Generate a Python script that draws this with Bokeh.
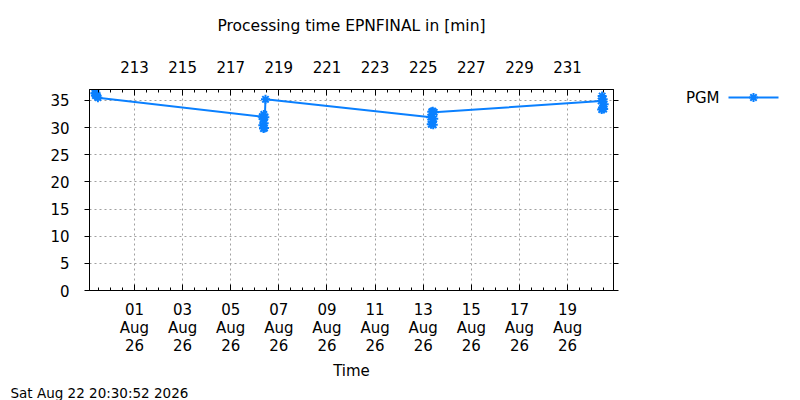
from datetime import datetime, timedelta

from bokeh.embed import file_html
from bokeh.resources import INLINE
from bokeh.layouts import row
from bokeh.plotting import figure
from bokeh.models import Range1d, LinearAxis, FixedTicker, DatetimeTickFormatter, Title

# processing time samples (PGM)
times = [
    "2026-07-30 08:30", "2026-07-30 09:00", "2026-07-30 09:30", "2026-07-30 10:00",
    "2026-07-30 10:30", "2026-07-30 11:30",
    "2026-08-06 07:30", "2026-08-06 08:00", "2026-08-06 08:20", "2026-08-06 08:40",
    "2026-08-06 09:00", "2026-08-06 09:20", "2026-08-06 09:40", "2026-08-06 10:00",
    "2026-08-06 10:40",
    "2026-08-13 07:30", "2026-08-13 08:00", "2026-08-13 08:30", "2026-08-13 09:00",
    "2026-08-13 09:30", "2026-08-13 10:00", "2026-08-13 10:30", "2026-08-13 11:00",
    "2026-08-20 09:30", "2026-08-20 10:00", "2026-08-20 10:30", "2026-08-20 11:00",
    "2026-08-20 11:30", "2026-08-20 12:00", "2026-08-20 12:30",
]
minutes = [
    36.3, 35.9, 36.4, 36.0, 35.8, 35.5,
    32.0, 30.4, 31.6, 29.8, 32.4, 30.8, 29.9, 31.9, 35.2,
    31.9, 30.6, 32.9, 31.0, 33.0, 30.5, 31.6, 32.8,
    34.9, 33.3, 35.8, 33.6, 35.2, 33.4, 34.3,
]
series_name = "PGM"

x_start = "2026-07-30 03:07"
x_end = "2026-08-20 21:49"
date_ticks = ["2026-08-01", "2026-08-03", "2026-08-05", "2026-08-07", "2026-08-09",
              "2026-08-11", "2026-08-13", "2026-08-15", "2026-08-17", "2026-08-19"]
day_numbers = [213, 215, 217, 219, 221, 223, 225, 227, 229, 231]
y_ticks = [0, 5, 10, 15, 20, 25, 30, 35]
y_max = 37

FONT = "DejaVu Sans"
BLUE = "#0a80ff"
EPOCH = datetime(1970, 1, 1)
BORDER_TOP, BORDER_BOTTOM = 89, 110


def parse(s):
    fmt = "%Y-%m-%d %H:%M" if " " in s else "%Y-%m-%d"
    return datetime.strptime(s, fmt)


def ms(d):
    return (d - EPOCH).total_seconds() * 1000.0


xs = [parse(t) for t in times]
t0, t1 = parse(x_start), parse(x_end)
aug1 = datetime(2026, 8, 1)
doy0 = day_numbers[0] + (t0 - aug1).total_seconds() / 86400
doy1 = day_numbers[0] + (t1 - aug1).total_seconds() / 86400

p = figure(width=640, height=400, x_axis_type="datetime", tools="",
           toolbar_location=None, output_backend="svg",
           x_range=Range1d(t0, t1), y_range=Range1d(0, y_max),
           min_border_left=89, min_border_right=27,
           min_border_top=BORDER_TOP, min_border_bottom=BORDER_BOTTOM)
p.outline_line_color = "black"
p.title.text = "Processing time EPNFINAL in [min]"
p.title.align = "center"
p.title.text_font = FONT
p.title.text_font_size = "15.5px"
p.title.text_font_style = "normal"
p.title.text_color = "black"

p.line(xs, minutes, line_color=BLUE, line_width=2)
p.scatter(xs, minutes, marker="asterisk", size=9, line_color=BLUE, line_width=2)

# bottom date axis
major = [ms(parse(d)) for d in date_ticks]
minor = []
m = datetime(2026, 7, 30, 12)
while m < t1:
    minor.append(ms(m))
    m += timedelta(hours=12)
xt = FixedTicker(ticks=major, minor_ticks=minor)
ax = p.xaxis[0]
ax.ticker = xt
ax.formatter = DatetimeTickFormatter(hours="%d\n%b\n%y", days="%d\n%b\n%y",
                                     months="%d\n%b\n%y", context=None)
ax.axis_label = "Time"
ax.axis_label_text_font = FONT
ax.axis_label_text_font_size = "15px"
ax.axis_label_text_font_style = "normal"
ax.axis_label_text_color = "black"
ax.axis_label_standoff = 4
ax.major_label_text_font = FONT
ax.major_label_text_font_size = "15px"
ax.major_label_text_color = "black"
ax.major_label_text_line_height = 1.0
ax.major_label_standoff = 10
ax.major_tick_in, ax.major_tick_out = 6, 0
ax.minor_tick_in, ax.minor_tick_out = 3, 0

# top day-of-year axis
p.extra_x_ranges = {"doy": Range1d(doy0, doy1)}
top_minor = []
d = 211.5
while d < doy1:
    top_minor.append(d)
    d += 0.5
top = LinearAxis(x_range_name="doy", ticker=FixedTicker(ticks=day_numbers, minor_ticks=top_minor),
                 major_label_text_font=FONT, major_label_text_font_size="15px",
                 major_label_text_color="black",
                 major_label_standoff=17, major_tick_in=6, major_tick_out=0,
                 minor_tick_in=3, minor_tick_out=0,
                 axis_label=" ", axis_label_text_font_size="1px", axis_label_standoff=14)
p.add_layout(top, "above")

# y axes
yt = FixedTicker(ticks=y_ticks, minor_ticks=[])
ay = p.yaxis[0]
ay.ticker = yt
ay.major_label_text_font = FONT
ay.major_label_text_font_size = "15px"
ay.major_label_text_color = "black"
ay.major_label_standoff = 15
ay.major_tick_in, ay.major_tick_out = 0, 5
right = LinearAxis(ticker=yt, major_label_text_alpha=0, major_label_text_font_size="1px",
                   major_label_standoff=0, major_tick_in=0, major_tick_out=5)
p.add_layout(right, "right")

for g in (p.xgrid[0], p.ygrid[0]):
    g.grid_line_color = "#a0a0a0"
    g.grid_line_dash = "2 3"
p.xgrid[0].ticker = xt
p.ygrid[0].ticker = yt

# footer time stamp
footer = Title(text="Sat Aug 22 20:30:52 2026", align="left", offset=-79,
               text_font=FONT, text_font_size="13.5px", text_font_style="normal",
               text_color="black")
if "standoff" in footer.properties():
    footer.standoff = 0
p.add_layout(footer, "below")

# gnuplot style key (text, then sample) in a strip to the right;
# same vertical frame as the chart, x in pixels of the strip
k = figure(width=160, height=400, title=None, tools="", toolbar_location=None,
           output_backend="svg", x_range=Range1d(640, 800), y_range=Range1d(0, y_max),
           x_axis_type=None, y_axis_type=None,
           min_border_left=0, min_border_right=0,
           min_border_top=BORDER_TOP, min_border_bottom=BORDER_BOTTOM)
k.outline_line_color = None
k.grid.visible = False
key_y = y_max - 8 * y_max / 201.0   # 8 px under the frame top
k.text(x=[719], y=[key_y], text=[series_name], text_align="right", text_baseline="middle",
       text_font={"value": FONT}, text_font_size="15px", text_color="black")
k.line(x=[728, 778], y=[key_y, key_y], line_color=BLUE, line_width=2)
k.scatter(x=[753], y=[key_y], marker="asterisk", size=9, line_color=BLUE, line_width=2)

open("out.html", "w").write(file_html(row(p, k), INLINE))
